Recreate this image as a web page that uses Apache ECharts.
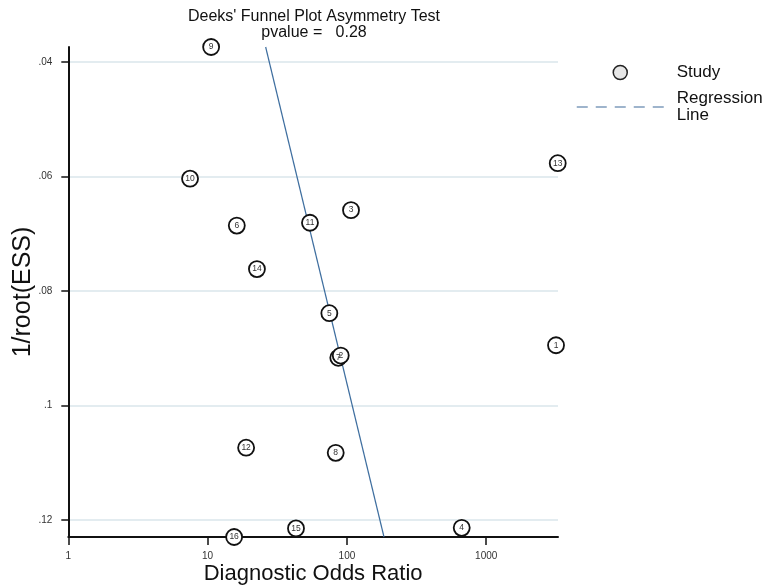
<!DOCTYPE html>
<html>
<head>
<meta charset="utf-8">
<script src="https://cdn.jsdelivr.net/npm/echarts@6/dist/echarts.min.js"></script>
<style>
html,body{margin:0;padding:0;background:#fff;}
#chart{width:763px;height:588px;}
</style>
</head>
<body>
<div id="chart"></div>
<script>
// ---- data ----
var studyIds   = ['1', '7', '2', '3', '4', '5', '6', '8', '9', '10', '11', '12', '13', '14', '15', '16'];
var studyDOR   = [3170, 86.7, 90.3, 107, 667, 74.8, 16.2, 83.1, 10.6, 7.48, 54.3, 18.9, 3260, 22.6, 43.1, 15.5];
var studyInvRootESS = [0.0895, 0.0917, 0.0913, 0.0659, 0.1214, 0.0839, 0.0686, 0.1083, 0.0374, 0.0604, 0.0681, 0.1074, 0.0577, 0.0762, 0.1215, 0.1230];
var regressionDOR = [26.1, 184.6];
var regressionInvRootESS = [0.0374, 0.1230];
var xTicks = [1, 10, 100, 1000];
var xTickLabels = ['1', '10', '100', '1000'];
var yTicks = [0.04, 0.06, 0.08, 0.10, 0.12];
var yTickLabels = ['.04', '.06', '.08', '.1', '.12'];
var titleText = "Deeks' Funnel Plot Asymmetry Test";
var pvalueText = 'pvalue =   0.28';

var FONT = "'Liberation Sans', Arial, sans-serif";

function lookup(ticks, labels, v) {
  for (var i = 0; i < ticks.length; i++) {
    if (Math.abs(ticks[i] - v) <= Math.abs(ticks[i]) * 1e-6) return labels[i];
  }
  return '';
}

var scatterData = studyIds.map(function (id, i) {
  return [studyDOR[i], studyInvRootESS[i], id];
});
var lineData = regressionDOR.map(function (x, i) {
  return [x, regressionInvRootESS[i]];
});

var chart = echarts.init(document.getElementById('chart'), null, {renderer: 'canvas'});
chart.setOption({
  animation: false,
  backgroundColor: '#ffffff',
  textStyle: {fontFamily: FONT},
  title: {
    text: titleText + '\n' + pvalueText,
    left: 314,
    textAlign: 'center',
    top: 8,
    padding: 0,
    textStyle: {fontFamily: FONT, fontSize: 16, fontWeight: 'normal', color: '#111', lineHeight: 16.5}
  },
  legend: {
    orient: 'vertical',
    left: 576,
    top: 64,
    padding: 0,
    itemWidth: 87,
    itemHeight: 14,
    itemGap: 9,
    selectedMode: false,
    textStyle: {fontFamily: FONT, fontSize: 17, color: '#111', lineHeight: 17, padding: [0, 0, 0, 8]},
    data: [
      {name: 'Study', icon: 'circle', itemStyle: {color: '#e6e6e6', borderColor: '#222', borderWidth: 1.5}},
      {name: 'Regression\nLine',
       itemStyle: {color: 'rgba(0,0,0,0)', borderColor: 'rgba(0,0,0,0)', borderWidth: 0, opacity: 0},
       lineStyle: {type: [11, 8], width: 1.5, color: '#7f9cbc', opacity: 1}}
    ]
  },
  grid: {left: 68.3, right: 205, top: 47, bottom: 51, containLabel: false, outerBoundsMode: 'none'},
  xAxis: {
    type: 'log',
    logBase: 10,
    min: 1,
    max: 3275,
    name: 'Diagnostic Odds Ratio',
    nameLocation: 'middle',
    nameGap: 26,
    nameMoveOverlap: false,
    nameTextStyle: {fontFamily: FONT, fontSize: 22, color: '#111'},
    axisLine: {show: true, lineStyle: {color: '#111', width: 2}},
    axisTick: {show: true, customValues: xTicks, length: 8, lineStyle: {color: '#111', width: 1.5}},
    axisLabel: {
      customValues: xTicks,
      margin: 14,
      fontSize: 10,
      color: '#333',
      fontFamily: FONT,
      formatter: function (v) { return lookup(xTicks, xTickLabels, v); }
    },
    splitLine: {show: false}
  },
  yAxis: {
    type: 'value',
    inverse: true,
    min: 0.0374,
    max: 0.1230,
    name: '1/root(ESS)',
    nameLocation: 'middle',
    nameGap: 33,
    nameMoveOverlap: false,
    nameRotate: 90,
    nameTextStyle: {fontFamily: FONT, fontSize: 25, color: '#111'},
    axisLine: {show: true, lineStyle: {color: '#111', width: 2}},
    axisTick: {show: true, customValues: yTicks, length: 7, lineStyle: {color: '#111', width: 1.5}},
    axisLabel: {
      customValues: yTicks,
      margin: 16,
      fontSize: 10,
      color: '#333',
      fontFamily: FONT,
      formatter: function (v) { return lookup(yTicks, yTickLabels, v); }
    },
    splitLine: {show: true, lineStyle: {color: '#e3ecf0', width: 2}}
  },
  series: [
    {
      name: 'Regression\nLine',
      type: 'line',
      data: lineData,
      symbol: 'none',
      clip: false,
      z: 2,
      lineStyle: {color: '#3e6e9f', width: 1.2, type: 'solid'}
    },
    {
      name: 'Study',
      type: 'scatter',
      data: scatterData,
      clip: false,
      z: 3,
      symbol: 'circle',
      symbolSize: 16,
      itemStyle: {color: '#ffffff', borderColor: '#111', borderWidth: 1.8, opacity: 1},
      label: {
        show: true,
        position: 'inside',
        fontSize: 8.5,
        color: '#333',
        fontFamily: FONT,
        formatter: function (p) { return p.data[2]; }
      }
    }
  ]
});
</script>
</body>
</html>
